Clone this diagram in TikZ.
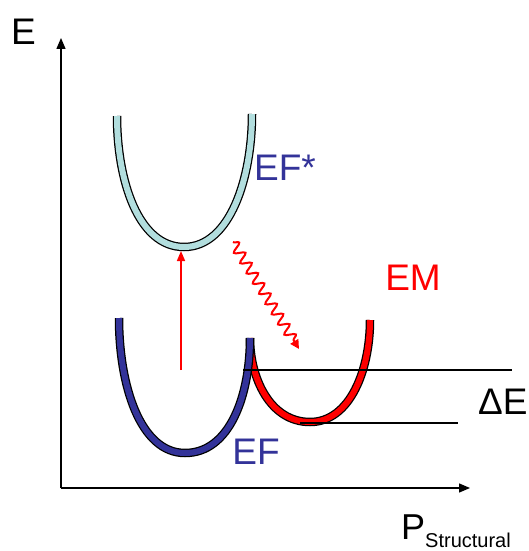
\documentclass[tikz,border=0pt]{standalone}
\usepackage{fontspec}
\setmainfont{Liberation Sans}
\usetikzlibrary{arrows.meta,decorations.pathmorphing}
\definecolor{efstar}{RGB}{178,222,222}
\definecolor{efblue}{RGB}{51,51,153}
\definecolor{emred}{RGB}{255,0,0}
\tikzset{
  axis/.style={line width=1.4pt, -{Triangle[width=9pt,length=11pt]}},
  bandout/.style={line width=8.5pt, black},
  bandin/.style={line width=6pt},
  lbl/.style={font=\fontsize{37}{40}\selectfont, inner sep=0pt},
  level/.style={line width=1.2pt, black},
}
\begin{document}
\begin{tikzpicture}[x=1pt,y=-1pt]
\useasboundingbox[fill=white] (0,0) rectangle (528,551);
% axes
\coordinate (O) at (61,488);
\coordinate (Ytop) at (61,38);
\coordinate (Xend) at (470,488);
\draw[axis] (O) -- (Ytop);
\draw[axis] (O) -- (Xend);
\node[lbl, anchor=base west] (Elbl) at (11,45) {E};
\node[inner sep=0pt, anchor=base west] (Plbl) at (401,539)
  {\fontsize{36}{40}\selectfont P\raisebox{-8pt}{\fontsize{20}{22}\selectfont Structural}};
% EF* curve
\def\efstarpath{(117,116) .. controls (117,180) and (138,247) .. (184,247)
  .. controls (230,247) and (252,178) .. (252,114)}
\draw[bandout] \efstarpath;
\draw[bandin, efstar] \efstarpath;
% EM curve
\def\empath{(250,338) .. controls (250,378) and (270,422) .. (310,422)
  .. controls (350,422) and (370,370) .. (370,320)}
\draw[bandout] \empath;
\draw[bandin, emred] \empath;
% EF curve
\def\efpath{(119,318) .. controls (119,385) and (140,453) .. (185,453)
  .. controls (230,453) and (250,395) .. (250,338)}
\draw[bandout] \efpath;
\draw[bandin, efblue] \efpath;
% levels
\coordinate (L1a) at (243,370);
\coordinate (L1b) at (512,370);
\coordinate (L2a) at (300,423);
\coordinate (L2b) at (458,423);
\draw[level] (L1a) -- (L1b);
\draw[level] (L2a) -- (L2b);
% excitation arrow
\coordinate (Ua) at (181,370);
\coordinate (Ub) at (181,251);
\draw[emred, line width=1.5pt, -{Triangle[width=8pt,length=10pt]}] (Ua) -- (Ub);
% emission wavy arrow
\coordinate (Wa) at (233,242);
\coordinate (Wb) at (299,349);
\draw[emred, line width=2pt, -{Triangle[width=9pt,length=9pt]},
  decorate, decoration={snake, segment length=12pt, amplitude=5pt, post length=7pt}] (Wa) -- (Wb);
% labels
\node[lbl, text=efblue] (EFs) at (285,168) {EF*};
\node[lbl, text=emred] (EM) at (413,278) {EM};
\node[lbl, text=efblue] (EF) at (256,452) {EF};
\node[lbl, anchor=west] (dE) at (478,402) {ΔE};
\end{tikzpicture}
\end{document}
